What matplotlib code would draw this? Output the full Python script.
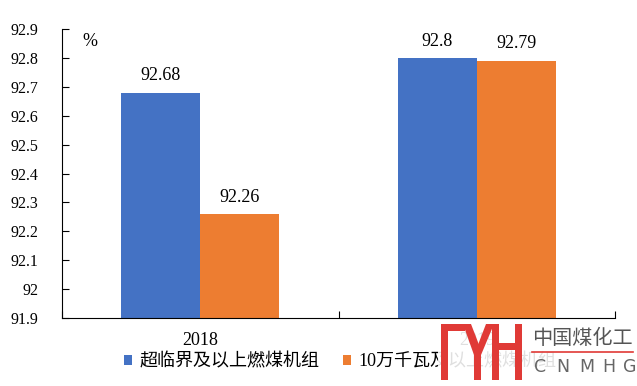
import matplotlib

matplotlib.use("Agg")
import matplotlib.pyplot as plt  # noqa: E402
from matplotlib.patches import Polygon, Rectangle  # noqa: E402
import numpy as np  # noqa: E402

plt.rcParams["font.family"] = ["Liberation Serif", "Noto Sans CJK SC", "DejaVu Sans"]

years = ["2018", "2019"]
series_names = ["超临界及以上燃煤机组", "10万千瓦及以上燃煤机组"]
supercritical = [92.68, 92.80]
above_100mw = [92.26, 92.79]
label_text = [["92.68", "92.8"], ["92.26", "92.79"]]

BLUE = "#4472C4"
ORANGE = "#ED7D31"
W, H = 637, 386

fig = plt.figure(figsize=(W / 100, H / 100), dpi=100)
ax = fig.add_axes([62 / W, (H - 318) / H, (615 - 62) / W, (318 - 29) / H])

x = np.arange(len(years))
bw = 79 / 277
b1 = ax.bar(x - bw / 2, supercritical, bw, color=BLUE, label=series_names[0], zorder=2)
b2 = ax.bar(x + bw / 2, above_100mw, bw, color=ORANGE, label=series_names[1], zorder=2)

for bars, labs in zip((b1, b2), label_text):
    for r, s in zip(bars, labs):
        ax.annotate(s, (r.get_x() + r.get_width() / 2, r.get_height()),
                    xytext=(0, 6), textcoords="offset points", ha="center", va="bottom",
                    fontsize=13)

ax.set_ylim(91.9, 92.9)
ax.set_yticks(np.round(np.arange(91.9, 92.95, 0.1), 1))
ax.set_yticklabels(["91.9", "92", "92.1", "92.2", "92.3", "92.4", "92.5", "92.6", "92.7",
                    "92.8", "92.9"])
ax.set_xlim(-0.5, 1.5)
ax.set_xticks([-0.5, 0.5, 1.5])
ax.set_xticklabels([])
ax.set_xticks(x, minor=True)
ax.set_xticklabels(years, minor=True)
ax.tick_params(axis="x", which="minor", length=0, pad=10, labelsize=13)
ax.tick_params(axis="x", which="major", direction="in", length=5, width=0.8)
ax.tick_params(axis="y", direction="in", length=5, width=0.8, labelsize=11.5, pad=17)
for s in ("top", "right"):
    ax.spines[s].set_visible(False)
ax.spines["left"].set_linewidth(0.8)
ax.spines["bottom"].set_linewidth(0.8)

fig.text(82 / W, 1 - 41 / H, "%", fontsize=13, va="center", ha="left")

leg = fig.legend(loc="center", bbox_to_anchor=(340 / W, 1 - 362 / H), ncol=2, frameon=False,
                 fontsize=13, handlelength=0.45, handleheight=0.45, handletextpad=0.4,
                 columnspacing=1.3)
leg.set_zorder(2)

# watermark (logo over the bottom-right corner)
wm = fig.add_axes([0, 0, 1, 1], zorder=10)
wm.set_xlim(0, W)
wm.set_ylim(H, 0)
wm.axis("off")
wm.add_patch(Rectangle((438, 321), 199, 65, fc="white", ec="none", alpha=0.88))
RED = "#E03A36"
for rx, ry, rw, rh in [(441, 324, 7, 56), (441, 324, 24, 7), (474, 350, 7, 30),
                       (492, 324, 7, 56), (515, 324, 7, 56), (492, 343, 30, 7)]:
    wm.add_patch(Rectangle((rx, ry), rw, rh, fc=RED, ec="none"))
wm.add_patch(Polygon([(463, 324), (471, 324), (481, 350), (474, 355)], fc=RED, ec="none"))
wm.add_patch(Polygon([(486, 324), (494, 324), (481, 355), (476, 350)], fc=RED, ec="none"))
wm.text(582, 338, "中国煤化工", family="Noto Sans CJK SC", fontsize=14.5, color="#555555",
        ha="center", va="center")
wm.plot([532, 633], [352, 352], color=RED, lw=1.2)
for cx, ch in zip([540, 563, 587, 609, 630], "CNMHG"):
    wm.text(cx, 367, ch, family="DejaVu Sans", fontsize=12.5, color="#666666",
            ha="center", va="center")

fig.savefig("out.png", dpi=100)
